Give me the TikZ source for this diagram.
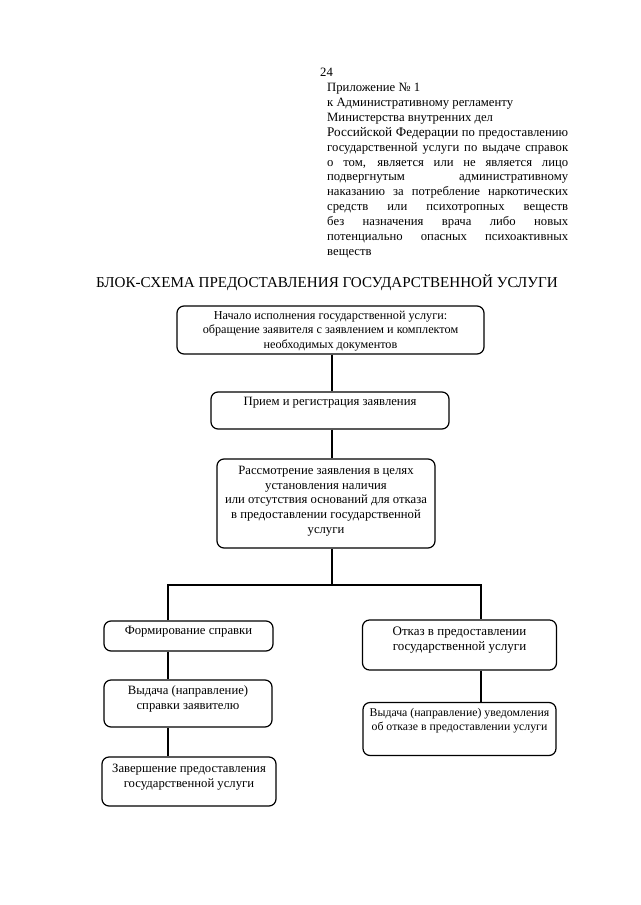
\documentclass[tikz,border=0pt]{standalone}
\usepackage{fontspec}
\setmainfont{Liberation Serif}
\usepackage{tikz}
\newcommand{\boxtext}[4]{\parbox[c][#2pt][t]{#1pt}{\centering\vspace*{#3pt}#4}}

\begin{document}
\begin{tikzpicture}[x=1pt,y=-1pt,
  stage/.style={draw,line width=1.2pt,rounded corners=7pt,inner sep=0pt,
    font=\fontsize{12.7}{14.8}\selectfont},
  link/.style={line width=2.8pt,line join=miter}]
\useasboundingbox (0,0) rectangle (640,905);
\node[anchor=base west,inner sep=0pt,font=\fontsize{12.7}{15}\selectfont] (pagenum) at (320,76) {24};
\node[anchor=north west,inner sep=0pt,align=left,font=\fontsize{12.7}{14.9}\selectfont] (annex) at (327,83) {Приложение № 1\\
к Административному регламенту\\
Министерства внутренних дел\\
\makebox[241pt][s]{{\fontsize{13.2}{15}\selectfont Российской Федерации} по предоставлению}\\
\makebox[241pt][s]{государственной услуги по выдаче справок}\\
\makebox[241pt][s]{о том, является или не является лицо}\\
\makebox[241pt][s]{подвергнутым административному}\\
\makebox[241pt][s]{наказанию за потребление наркотических}\\
\makebox[241pt][s]{средств или психотропных веществ}\\
\makebox[241pt][s]{без назначения врача либо новых}\\
\makebox[241pt][s]{потенциально опасных психоактивных}\\
веществ};
\node[inner sep=0pt,font=\fontsize{15.1}{18}\selectfont] (title) at (327,283) {БЛОК-СХЕМА ПРЕДОСТАВЛЕНИЯ ГОСУДАРСТВЕННОЙ УСЛУГИ};
\node[stage,font=\fontsize{12.2}{14.5}\selectfont] (start) at (330.5,330) {\boxtext{307}{48}{5}{Начало исполнения государственной услуги:\\ обращение заявителя с заявлением и комплектом\\ необходимых документов}};
\node[stage] (reg) at (330,410.5) {\boxtext{238}{37}{5}{Прием и регистрация заявления}};
\node[stage] (cons) at (326,503.5) {\boxtext{218}{89}{7}{Рассмотрение заявления в целях\\ установления наличия\\ или отсутствия оснований для отказа\\ в предоставлении государственной\\ услуги}};
\node[stage] (form) at (188.5,636) {\boxtext{169}{30}{5}{Формирование справки}};
\node[stage,font=\fontsize{13}{14.6}\selectfont] (refuse) at (459.5,645) {\boxtext{194}{50}{7}{Отказ в предоставлении\\ государственной услуги}};
\node[stage] (give) at (188,703.5) {\boxtext{168}{47}{6}{Выдача (направление)\\ справки заявителю}};
\node[stage,font=\fontsize{11.8}{14.2}\selectfont] (notice) at (459.5,729) {\boxtext{193}{53}{6}{Выдача (направление) уведомления\\ об отказе в предоставлении услуги}};
\node[stage] (finish) at (189,781.5) {\boxtext{174}{49}{7}{Завершение предоставления\\ государственной услуги}};
% columns of the connectors
\coordinate (mid) at (332,0);
\coordinate (lcol) at (168,0);
\coordinate (rcol) at (481,0);
\coordinate (fork) at (332,585);
\draw[link] (start.south -| mid) -- (reg.north -| mid);
\draw[link] (reg.south -| mid) -- (cons.north -| mid);
\draw[link] (cons.south -| mid) -- (fork);
\draw[link] (form.north -| lcol) |- (fork) -| (refuse.north -| rcol);
\draw[link] (form.south -| lcol) -- (give.north -| lcol);
\draw[link] (give.south -| lcol) -- (finish.north -| lcol);
\draw[link] (refuse.south -| rcol) -- (notice.north -| rcol);
\end{tikzpicture}
\end{document}
